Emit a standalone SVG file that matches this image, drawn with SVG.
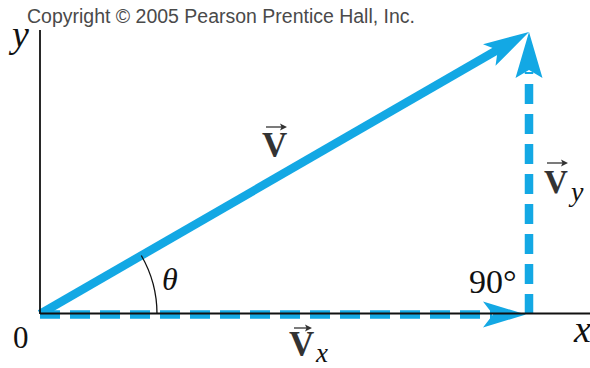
<svg xmlns="http://www.w3.org/2000/svg" width="590" height="368" viewBox="0 0 590 368">
<defs>
<style>
.blue{stroke:#13a8e4;fill:none;stroke-width:8.5}
.dash{stroke-dasharray:20 10}
.head{fill:#13a8e4;stroke:none}
.axis{stroke:#111;stroke-width:1.8;fill:none}
.it{font-family:"Liberation Serif",serif;font-style:italic;fill:#111}
.rm{font-family:"Liberation Serif",serif;fill:#111}
.bd{font-family:"Liberation Serif",serif;font-weight:bold;fill:#333}
.vec{stroke:#333;stroke-width:1.3;fill:none}
.vh{fill:#333;stroke:none}
</style>
</defs>
<rect width="590" height="368" fill="#fff"/>
<text x="27" y="23" font-family="Liberation Sans,Arial,sans-serif" font-size="20" fill="#4a4a4a" textLength="388" lengthAdjust="spacingAndGlyphs">Copyright © 2005 Pearson Prentice Hall, Inc.</text>
<g id="connectors">
<g id="V">
<line class="blue" x1="40" y1="314" x2="499" y2="49"/>
<polygon class="head" points="529,32 483,44.2 497.8,50 495.5,65.8"/>
</g>
<g id="Vx">
<line class="blue dash" x1="40" y1="314.5" x2="492" y2="314.5"/>
<polygon class="head" points="526,314.5 483,301.5 493,314.5 483,327.5"/>
</g>
<g id="Vy">
<line class="blue dash" x1="529" y1="314" x2="529" y2="72"/>
<polygon class="head" points="529,32 542.5,78 529,70 515.5,78"/>
</g>
<path id="theta-arc" d="M157,314 A117,117 0 0 0 141.3,255.5" stroke="#111" stroke-width="1.3" fill="none"/>
</g>
<g id="axes">
<line class="axis" x1="40" y1="30" x2="40" y2="314"/>
<line class="axis" x1="40" y1="313.5" x2="590" y2="313.5"/>
</g>
<g id="labels">
<text class="it" x="12" y="47" font-size="38">y</text>
<text class="rm" x="13" y="348" font-size="31">0</text>
<text class="it" x="574" y="342" font-size="38">x</text>
<text class="it" x="162" y="290" font-size="32">θ</text>
<text class="rm" x="469" y="293" font-size="34">90°</text>
<g id="label-V">
<text class="bd" x="262" y="157" font-size="35">V</text>
<line class="vec" x1="266" y1="127" x2="283" y2="127"/>
<polygon class="vh" points="287,127 280,123.5 281.5,127 280,130.5"/>
</g>
<g id="label-Vx">
<text class="bd" x="289" y="356" font-size="35">V</text>
<line class="vec" x1="294" y1="328" x2="308" y2="328"/>
<polygon class="vh" points="312,328 305,324.5 306.5,328 305,331.5"/>
<text class="it" x="316" y="362" font-size="27">x</text>
</g>
<g id="label-Vy">
<text class="bd" x="544" y="193" font-size="33">V</text>
<line class="vec" x1="547" y1="163" x2="564" y2="163"/>
<polygon class="vh" points="568,163 561,159.5 562.5,163 561,166.5"/>
<text class="it" x="571" y="201" font-size="28">y</text>
</g>
</g>
</svg>
